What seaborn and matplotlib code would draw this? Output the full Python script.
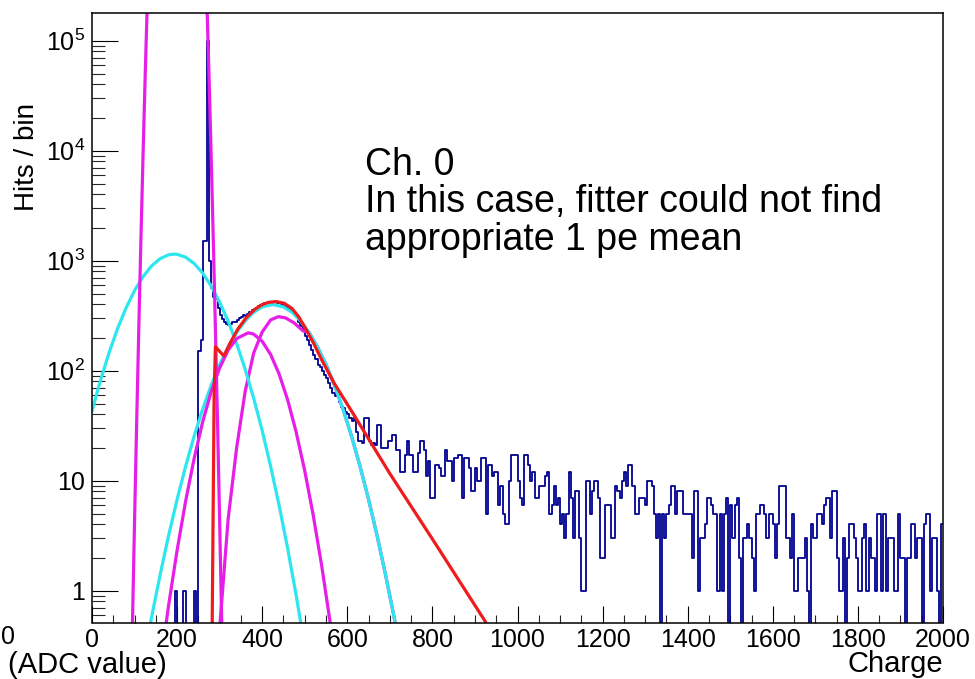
import numpy as np
import pandas as pd
import matplotlib
matplotlib.use("Agg")
import matplotlib.pyplot as plt
import seaborn as sns
from matplotlib.ticker import FixedLocator, MultipleLocator, NullFormatter

sns.set_theme(style="white")
plt.rcParams['font.family'] = ['Liberation Sans', 'DejaVu Sans']
plt.rcParams['mathtext.fontset'] = 'custom'
plt.rcParams['mathtext.rm'] = 'Liberation Sans'
plt.rcParams['mathtext.it'] = 'Liberation Sans:italic'

# ---------------- data ----------------
bin_width = 5
hist_counts = (
    [0] * 10 + [0] * 10 + [0] * 10 +
    [0, 0, 0, 0, 0, 0, 0, 0, 0, 1] +
    [0, 0, 0, 1, 0, 0, 0, 0, 1, 0] +
    [150, 190, 1500, 1500, 100000, 1000, 560, 470, 450, 370] +
    [320, 295, 280, 265, 258, 268, 275, 280, 290, 300] +
    [310, 318, 316, 330, 345, 355, 362, 372, 385, 395] +
    [405, 410, 415, 418, 420, 420, 418, 415, 410, 405] +
    [398, 380, 372, 362, 350, 330, 305, 280, 255, 235] +
    [205, 190, 172, 155, 140, 128, 113, 108, 100, 92] +
    [86, 78, 70, 63, 59, 60, 52, 47, 46, 42] +
    [40, 37, 35, 37, 28, 23, 23, 22, 37, 37] +
    [23, 21, 22, 21, 32, 32, 20, 20, 20, 23] +
    [23, 26, 26, 19, 19, 12, 12, 17, 23, 17] +
    [17, 12, 12, 18, 23, 23, 19, 11, 15, 7] +
    [7, 14, 14, 13, 11, 11, 19, 15, 15, 10] +
    [16, 16, 17, 17, 7, 16, 16, 13, 8, 8] +
    [13, 10, 10, 16, 16, 5, 14, 14, 11, 12] +
    [12, 6, 9, 5, 4, 4, 10, 17, 17, 17] +
    [10, 7, 6, 17, 17, 14, 10, 12, 7, 7] +
    [9, 9, 9, 11, 12, 5, 6, 9, 6, 7] +
    [4, 5, 3, 5, 12, 7, 3, 8, 8, 3] +
    [1, 1, 10, 10, 5, 8, 10, 10, 7, 2] +
    [2, 6, 6, 6, 3, 3, 9, 8, 7, 10] +
    [12, 9, 14, 14, 9, 5, 5, 7, 7, 7] +
    [6, 10, 10, 9, 5, 3, 5, 0, 5, 3] +
    [5, 6, 9, 9, 5, 8, 8, 8, 5, 5] +
    [5, 5, 2, 8, 8, 1, 3, 3, 4, 7] +
    [7, 6, 5, 5, 1, 5, 1, 5, 7, 0] +
    [6, 3, 6, 7, 2, 0, 3, 3, 4, 3] +
    [2, 1, 5, 5, 6, 6, 5, 3, 5, 5] +
    [4, 2, 4, 9, 9, 9, 3, 3, 2, 5] +
    [1, 1, 2, 2, 2, 3, 1, 0, 4, 3] +
    [3, 5, 5, 4, 6, 7, 7, 3, 8, 8] +
    [2, 1, 1, 3, 0, 2, 4, 4, 3, 2] +
    [1, 1, 3, 4, 1, 3, 2, 2, 1, 5] +
    [5, 1, 5, 1, 3, 3, 3, 1, 1, 5] +
    [2, 2, 0, 2, 2, 4, 4, 2, 3, 3] +
    [0, 4, 5, 5, 1, 3, 3, 1, 0, 4]
)

# fit curves
ped_x = [90, 95, 100, 105, 110, 115, 120, 125, 130, 135, 140, 200,
         260, 265, 270, 275, 280, 285, 290, 295, 300, 305, 310]
ped_y = [0.049, 0.48, 4.3, 34, 245, 1580, 9200, 4.8e4, 2.25e5, 9.5e5, 3.6e6, 7.8e9,
         3.6e6, 9.5e5, 2.25e5, 4.8e4, 9200, 1580, 245, 34, 4.3, 0.48, 0.049]

cyan1_x = [0, 20, 40, 60, 80, 100, 120, 140, 160, 180, 193, 200, 220, 240, 260,
           280, 300, 320, 340, 360, 380, 400, 420, 440, 460, 480, 500]
cyan1_y = [42.9, 81.8, 145, 241, 372, 535, 717, 896, 1043, 1131, 1148, 1143, 1076,
           945, 773, 589, 420, 282, 176, 103, 56, 28.5, 13.4, 5.9, 2.4, 0.90, 0.31]

cyan2_x = [120, 140, 160, 180, 200, 220, 240, 260, 280, 300, 320, 340, 360, 380,
           400, 425, 450, 470, 490, 510, 530, 550, 570, 590, 610, 630, 650, 670,
           690, 710, 730]
cyan2_y = [0.222, 0.574, 1.39, 3.17, 6.76, 13.5, 25.4, 44.6, 73.5, 114, 164, 223,
           284, 340, 380, 400, 380, 340, 284, 223, 164, 114, 73.5, 44.6, 25.4,
           13.5, 6.76, 3.17, 1.39, 0.574, 0.222]

mag1_x = [160, 180, 200, 220, 240, 260, 280, 300, 320, 340, 367, 380, 400, 420,
          440, 460, 480, 500, 520, 540, 560, 580]
mag1_y = [0.203, 0.734, 2.33, 6.50, 15.9, 34.1, 64.3, 106, 154, 196, 221, 215,
          185, 140, 92.7, 54.0, 27.5, 12.3, 4.84, 1.67, 0.506, 0.134]

mag2_x = [296, 301, 320, 340, 360, 380, 400, 420, 438, 455, 475, 496, 510, 530,
          550, 570, 590, 610, 630, 650, 670, 690, 710, 730]
mag2_y = [0.2, 0.51, 4.5, 20, 65, 145, 225, 290, 310, 302, 272, 230, 223, 164,
          114, 73.5, 44.6, 25.4, 13.5, 6.76, 3.17, 1.39, 0.574, 0.222]

red_x = [282, 287, 290, 310, 325, 343, 363, 383, 398, 414, 433, 452, 470, 486,
         501, 520, 541, 570, 610, 700, 800, 925]
red_y = [0.3, 60, 165, 136, 180, 240, 305, 362, 395, 418, 425, 410, 368, 308,
         246, 180, 123, 76, 43, 11.6, 2.95, 0.52]

x_ticks = [0, 200, 400, 600, 800, 1000, 1200, 1400, 1600, 1800, 2000]
y_ticks = [1, 10, 100, 1000, 10000, 100000]
y_tick_labels = ["1", "10", r"$10^{2}$", r"$10^{3}$", r"$10^{4}$", r"$10^{5}$"]

# ---------------- colours ----------------
NAVY = "#000090"
CYAN = "#2ee6ee"
MAGENTA = "#e61ee8"
RED = "#ee1c1c"

W, H = 975, 679
fig = plt.figure(figsize=(W / 100, H / 100), dpi=100)
fig.patch.set_facecolor("white")
ax = fig.add_axes([92 / W, 1 - 622.5 / H, (943 - 92) / W, (622.5 - 12.7) / H])
ax.set_facecolor("white")

centers = [bin_width * i + bin_width / 2 for i in range(len(hist_counts))]
df = pd.DataFrame({"charge": centers, "hits": hist_counts})

sns.histplot(data=df, x="charge", weights="hits", binwidth=bin_width,
             binrange=(0, 2000), element="step", fill=False, color=NAVY,
             linewidth=1.3, ax=ax)

LW = 2.3
sns.lineplot(x=mag2_x, y=mag2_y, color=MAGENTA, linewidth=LW, sort=False,
             estimator=None, ax=ax)
for xs, ys in [(cyan1_x, cyan1_y), (cyan2_x, cyan2_y)]:
    sns.lineplot(x=xs, y=ys, color=CYAN, linewidth=LW, sort=False,
                 estimator=None, ax=ax)
for xs, ys in [(ped_x, ped_y), (mag1_x, mag1_y)]:
    sns.lineplot(x=xs, y=ys, color=MAGENTA, linewidth=LW, sort=False,
                 estimator=None, ax=ax)
sns.lineplot(x=red_x, y=red_y, color=RED, linewidth=LW, sort=False,
             estimator=None, ax=ax)

ax.set_yscale("log", nonpositive="clip")
ax.set_xlim(0, 2000)
ax.set_ylim(0.514, 1.797e5)

ax.xaxis.set_major_locator(FixedLocator(x_ticks))
ax.xaxis.set_minor_locator(MultipleLocator(50))
ax.set_xticklabels([str(t) for t in x_ticks])
ax.yaxis.set_major_locator(FixedLocator(y_ticks))
ax.set_yticklabels(y_tick_labels)
minor_y = [m * 10 ** e for e in range(-1, 6) for m in range(2, 10)]
ax.yaxis.set_minor_locator(FixedLocator(minor_y))
ax.yaxis.set_minor_formatter(NullFormatter())

ax.tick_params(axis="x", which="major", direction="in", length=12.5, width=0.8,
               labelsize=18, pad=4, colors="black", bottom=True, top=False)
ax.tick_params(axis="x", which="minor", direction="in", length=6, width=0.8,
               bottom=True, top=False)
ax.tick_params(axis="y", which="major", direction="in", length=18.5, width=0.8,
               labelsize=18, pad=5, colors="black", left=True, right=False)
ax.tick_params(axis="y", which="minor", direction="in", length=9.5, width=0.8,
               left=True, right=False)

for s in ax.spines.values():
    s.set_visible(True)
    s.set_color("black")
    s.set_linewidth(1.1)
ax.set_xlabel("")
ax.set_ylabel("")
ax.grid(False)

fig.text(27 / W, 1 - 157 / H, "Hits / bin", rotation=90, ha="center",
         va="center", fontsize=20, color="black")
fig.text(943 / W, 1 - 664 / H, "Charge", ha="right", va="center",
         fontsize=21, color="black")
fig.text(8 / W, 1 - 665 / H, "(ADC value)", ha="left", va="center",
         fontsize=21, color="black")
fig.text(0.5 / W, 1 - 637 / H, "0", ha="left", va="center", fontsize=18,
         color="black")

fig.text(365 / W, 1 - 175 / H, "Ch. 0", ha="left", va="baseline",
         fontsize=27, color="black")
fig.text(365 / W, 1 - 212 / H, "In this case, fitter could not find",
         ha="left", va="baseline", fontsize=27, color="black")
fig.text(365 / W, 1 - 250 / H, "appropriate 1 pe mean", ha="left",
         va="baseline", fontsize=27, color="black")

fig.savefig("out.png", dpi=100, facecolor="white")
